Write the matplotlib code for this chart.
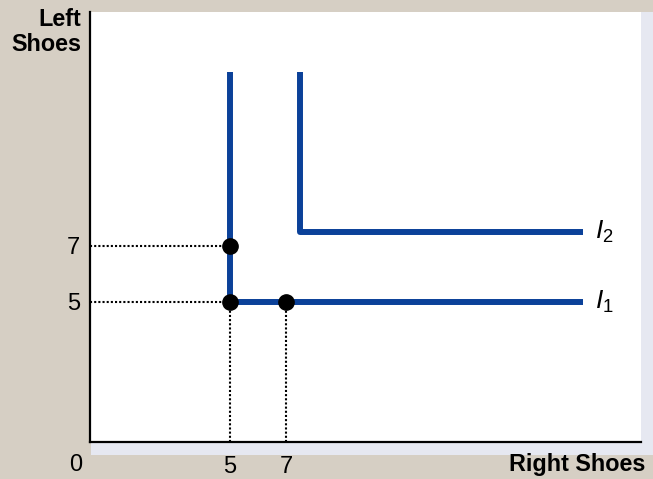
import matplotlib
matplotlib.use("Agg")
import matplotlib.pyplot as plt
from matplotlib.patches import Rectangle

plt.rcParams['font.family'] = ['Liberation Sans', 'DejaVu Sans']
plt.rcParams['mathtext.fontset'] = 'custom'
plt.rcParams['mathtext.it'] = 'Liberation Sans:italic'
plt.rcParams['mathtext.rm'] = 'Liberation Sans'

# Data
i1_x = [5, 5, 17.6]
i1_y = [13.2, 5, 5]
i2_x = [7.5, 7.5, 17.6]
i2_y = [13.2, 7.5, 7.5]
pts_x = [5, 5, 7]
pts_y = [7, 5, 5]
xticks = [5, 7]
yticks = [5, 7]
labels = ["$I_1$", "$I_2$"]

W, H = 653, 479
fig = plt.figure(figsize=(W/100, H/100), dpi=100)
fig.patch.set_facecolor('#d6cfc4')

# panel shading
fig.patches.append(Rectangle((91/W, (H-455)/H), (653-91)/W, (455-12)/H,
                             transform=fig.transFigure, facecolor='#e6e8f1', edgecolor='none', zorder=0))

ax = fig.add_axes([90/W, (H-442)/H, (641-90)/W, (442-12)/H])
ax.set_zorder(2)
ax.set_facecolor('white')
ax.set_xlim(0, (641-90)/28)
ax.set_ylim(0, (442-12)/28)

blue = '#0b4199'
ax.plot(i1_x, i1_y, color=blue, lw=4.3, solid_capstyle='butt', solid_joinstyle='miter', zorder=3)
ax.plot(i2_x, i2_y, color=blue, lw=4.3, solid_capstyle='butt', solid_joinstyle='round', zorder=3)

# dotted guides
dot = dict(color='black', lw=1.5, ls=(0, (1, 1.0)), zorder=2)
ax.plot([0, pts_x[0]], [pts_y[0], pts_y[0]], **dot)
ax.plot([0, pts_x[1]], [pts_y[1], pts_y[1]], **dot)
ax.plot([pts_x[1], pts_x[1]], [0, pts_y[1]], **dot)
ax.plot([pts_x[2], pts_x[2]], [0, pts_y[2]], **dot)

ax.plot(pts_x, pts_y, 'o', color='black', ms=11, zorder=4, ls='none')

ax.text(18.05, 5, labels[0], fontsize=19, va='center', ha='left')
ax.text(18.05, 7.5, labels[1], fontsize=19, va='center', ha='left')

for s in ['top', 'right']:
    ax.spines[s].set_visible(False)
for s in ['left', 'bottom']:
    ax.spines[s].set_linewidth(1.6)
    ax.spines[s].set_color('black')

ax.set_xticks(xticks)
ax.set_yticks(yticks)
ax.set_xticklabels([str(v) for v in xticks], fontsize=17)
ax.set_yticklabels([str(v) for v in yticks], fontsize=17)
ax.tick_params(axis='x', length=0, pad=10)
ax.tick_params(axis='y', length=0, pad=7)

fig.text(82/W, (H-465)/H, "0", fontsize=17, ha='right', va='center')
fig.text(645/W, (H-465)/H, "Right Shoes", fontsize=16.8, fontweight='bold', ha='right', va='center')
fig.text(81/W, (H-8)/H, "Left\nShoes", fontsize=16.8, fontweight='bold', ha='right', va='top', linespacing=1.1)

fig.savefig("out.png", dpi=100, facecolor=fig.get_facecolor())
